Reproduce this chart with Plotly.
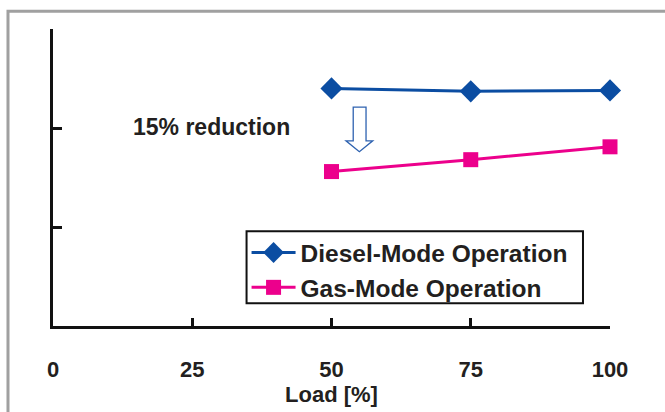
import plotly.graph_objects as go

# Data
load = [50, 75, 100]
diesel = [2.40, 2.37, 2.38]
gas = [1.56, 1.68, 1.81]
x_ticks = [0, 25, 50, 75, 100]
y_ticks = [0, 1, 2, 3]

# arrow outline in data coordinates (decoration)
arrow_x = [53.9, 56.2, 56.2, 57.4, 55.0, 52.6, 53.9]
arrow_y = [2.21, 2.21, 1.87, 1.87, 1.76, 1.87, 1.87]

BLUE = "#0B4DA2"
PINK = "#EC008C"
FONT = "Liberation Sans, Arial, sans-serif"
TXT = "#231F20"

fig = go.Figure()
fig.add_trace(go.Scatter(
    x=load, y=diesel, name="Diesel-Mode Operation", mode="lines+markers",
    line=dict(color=BLUE, width=3), legendgroup="d", cliponaxis=False,
    marker=dict(symbol="diamond", size=17, color=BLUE),
))
fig.add_trace(go.Scatter(
    x=load, y=gas, name="Gas-Mode Operation", mode="lines+markers",
    line=dict(color=PINK, width=3), legendgroup="g", cliponaxis=False,
    marker=dict(symbol="square", size=15, color=PINK),
))

path = "M " + " L ".join(f"{x},{y}" for x, y in zip(arrow_x, arrow_y)) + " Z"
fig.add_shape(type="path", path=path, xref="x", yref="y",
              line=dict(color="#2E62B0", width=1.3), fillcolor="white")

# legend frame
fig.add_shape(type="rect", xref="paper", yref="paper",
              x0=0.3475, x1=0.9515, y0=0.0764, y1=0.319,
              line=dict(color="#111", width=2), fillcolor="white", layer="above")

# outer frame (gray)
fig.add_shape(type="rect", xref="paper", yref="paper",
              x0=-0.0808, x1=1.3, y0=-0.5, y1=1.06,
              line=dict(color="#A0A0A0", width=3), layer="below")

fig.add_annotation(text="<b>15% reduction</b>", x=28.5, y=2.01, xref="x", yref="y",
                   showarrow=False, font=dict(family=FONT, size=23, color=TXT))

fig.update_layout(
    width=665, height=412,
    margin=dict(l=53, r=55, t=29, b=82),
    paper_bgcolor="white", plot_bgcolor="white",
    font=dict(family=FONT, color=TXT),
    showlegend=True,
    legend=dict(
        x=0.3475, y=0.323, xanchor="left", yanchor="top",
        borderwidth=0, bgcolor="rgba(0,0,0,0)",
        font=dict(family=FONT, size=24.5, color=TXT, weight="bold"),
        itemwidth=44, tracegroupgap=0, traceorder="grouped",
    ),
    xaxis=dict(
        range=[0, 100], tickvals=x_ticks, ticktext=[f"<b>{v}</b>" for v in x_ticks],
        ticks="inside", ticklen=8, tickwidth=2.5, tickcolor="#111",
        showline=True, linecolor="#111", linewidth=2.5,
        showgrid=False, zeroline=False,
        tickfont=dict(family=FONT, size=22, color=TXT),
        ticklabelstandoff=22,
        title=dict(text="<b>Load [%]</b>", font=dict(family=FONT, size=22, color=TXT), standoff=2),
    ),
    yaxis=dict(
        range=[0, 3], tickvals=y_ticks, showticklabels=False,
        ticks="inside", ticklen=9, tickwidth=2.5, tickcolor="#111",
        showline=True, linecolor="#111", linewidth=2.5,
        showgrid=False, zeroline=False,
    ),
)

fig.write_html("out.html", config={"displayModeBar": False},
               post_script="document.body.style.margin='0px';")
